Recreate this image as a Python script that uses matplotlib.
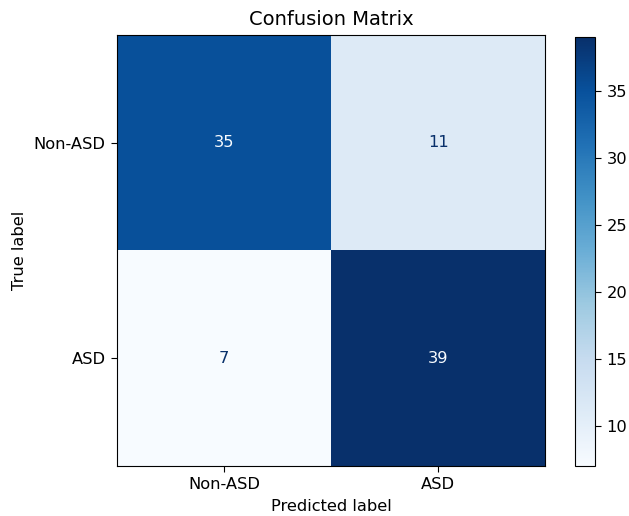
import matplotlib
matplotlib.use('Agg')
import matplotlib.pyplot as plt
import numpy as np

# class names and counts
labels = ['Non-ASD', 'ASD']
cm = np.array([[35, 11],
               [7, 39]])

# the reference was rendered a bit larger than 100 dpi
s = 1.17
plt.rcParams['font.size'] = 10 * s
plt.rcParams['xtick.major.size'] = 3.5 * s
plt.rcParams['ytick.major.size'] = 3.5 * s
plt.rcParams['xtick.major.pad'] = 3.5 * s
plt.rcParams['ytick.major.pad'] = 3.5 * s
plt.rcParams['axes.labelpad'] = 4 * s
plt.rcParams['axes.titlepad'] = 6 * s

fig = plt.figure(figsize=(6.29, 5.16), dpi=100)
ax = fig.add_axes([0.186, 0.097, 0.681, 0.835])
cax = fig.add_axes([0.914, 0.097, 0.032, 0.831])

cmap = plt.cm.Blues
im = ax.imshow(cm, interpolation='nearest', cmap=cmap, aspect='auto')

# text colour flips at the midpoint like sklearn's display
thresh = (cm.max() + cm.min()) / 2.0
for i in range(cm.shape[0]):
    for j in range(cm.shape[1]):
        color = cmap(0.0) if cm[i, j] > thresh else cmap(1.0)
        ax.text(j, i, str(cm[i, j]), ha='center', va='center', color=color)

ax.set_xticks(range(len(labels)))
ax.set_yticks(range(len(labels)))
ax.set_xticklabels(labels)
ax.set_yticklabels(labels)
ax.set_xlabel('Predicted label')
ax.set_ylabel('True label')
ax.set_title('Confusion Matrix', fontsize=12 * s)

fig.colorbar(im, cax=cax)

fig.savefig('out.png', dpi=100)
